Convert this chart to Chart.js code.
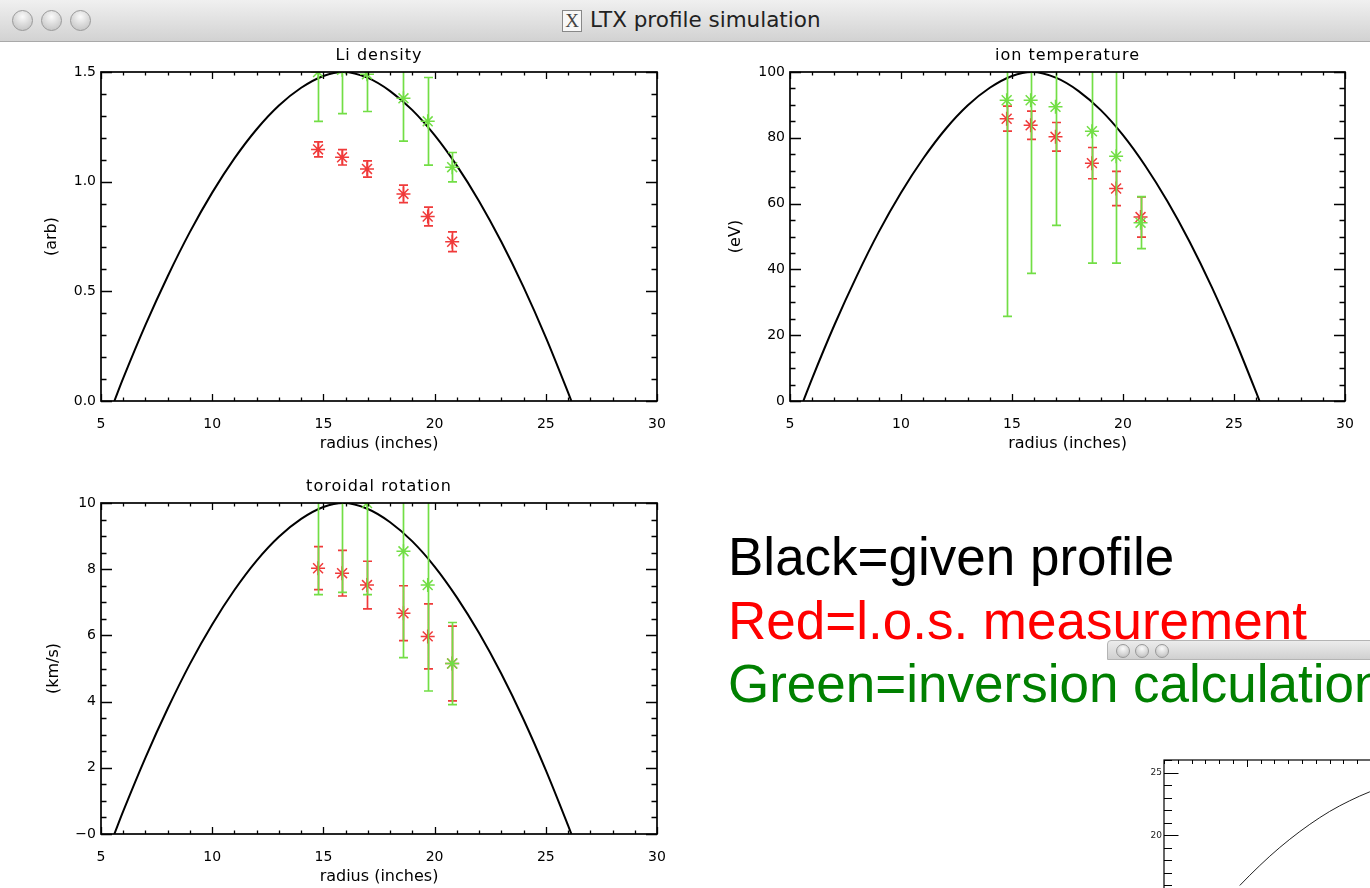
<!DOCTYPE html>
<html>
<head>
<meta charset="utf-8">
<title>LTX profile simulation</title>
<script src="https://cdn.jsdelivr.net/npm/chart.js@4.4.1/dist/chart.umd.min.js"></script>
<style>
  html, body { margin:0; padding:0; background:#fff; width:1370px; height:888px; overflow:hidden; }
  #page { position:relative; width:1370px; height:888px; overflow:hidden; background:#fff; }
  #titlebar { position:absolute; left:0; top:0; width:1370px; height:41px;
     background:linear-gradient(to bottom,#f0f0f0 0%,#dedede 60%,#d2d2d2 100%); border-bottom:1px solid #a9a9a9; }
  .light { position:absolute; width:21px; height:21px; border-radius:50%; box-sizing:border-box;
     background:radial-gradient(circle at 50% 30%, #fafafa 0%, #dadada 50%, #bcbcbc 100%);
     border:1px solid #999; }
  #xicon { position:absolute; left:562px; top:10px; width:20px; height:22px; border:1px solid #888;
     background:#f7f7f7; box-sizing:border-box; font:19px 'Liberation Serif', serif; line-height:20px;
     text-align:center; color:#444; }
  #wintitle { position:absolute; left:590px; top:7px; font:21.5px 'DejaVu Sans', sans-serif; color:#222; white-space:nowrap; }
  canvas { position:absolute; }
  #legend { position:absolute; left:728px; top:525px; font:53px 'Liberation Sans', Arial, sans-serif;
     line-height:63.5px; white-space:nowrap; z-index:5; }
  #win2 { position:absolute; left:1107px; top:640px; width:400px; height:400px; background:#fff; z-index:2; }
  #win2bar { position:absolute; left:0; top:0; width:400px; height:20px; border:1px solid #b4b4b4; border-radius:4px 0 0 0;
     background:linear-gradient(to bottom,#ececec 0%,#d0d0d0 100%); box-sizing:border-box; }
  .light2 { position:absolute; top:3px; width:14px; height:14px; border-radius:50%; box-sizing:border-box;
     background:radial-gradient(circle at 50% 30%, #fafafa 0%, #d6d6d6 55%, #b6b6b6 100%); border:1px solid #999; }
</style>
</head>
<body>
<div id="page">
  <div id="titlebar">
    <div class="light" style="left:12px;top:10px"></div>
    <div class="light" style="left:41px;top:10px"></div>
    <div class="light" style="left:70px;top:10px"></div>
    <div id="xicon">X</div>
    <div id="wintitle">LTX profile simulation</div>
  </div>

  <canvas id="cLi" width="685" height="420" style="left:0;top:42px"></canvas>
  <canvas id="cTi" width="685" height="420" style="left:685px;top:42px"></canvas>
  <canvas id="cVt" width="685" height="420" style="left:0;top:473px"></canvas>

  <div id="win2">
    <div id="win2bar">
      <div class="light2" style="left:8px"></div>
      <div class="light2" style="left:27px"></div>
      <div class="light2" style="left:47px"></div>
    </div>
    <canvas id="cMini" width="400" height="380" style="left:0;top:21px"></canvas>
  </div>

  <div id="legend">
    <div style="color:#000">Black=given profile</div>
    <div style="color:#ff0000">Red=l.o.s. measurement</div>
    <div style="color:#008000">Green=inversion calculation</div>
  </div>
</div>

<script>
// ---------------- data ----------------
const xTickValues = [5, 10, 15, 20, 25, 30];
const xTickLabels = ['5', '10', '15', '20', '25', '30'];

const liTickValues = [0, 0.5, 1.0, 1.5];
const liTickLabels = ['0.0', '0.5', '1.0', '1.5'];
const tiTickValues = [0, 20, 40, 60, 80, 100];
const tiTickLabels = ['0', '20', '40', '60', '80', '100'];
const vtTickValues = [0, 2, 4, 6, 8, 10];
const vtTickLabels = ['\u22120', '2', '4', '6', '8', '10'];

// given profile (black curve)
const profileRadius = [5.6, 6, 7, 8, 9, 10, 11, 12, 13, 14, 15, 15.9, 17, 18, 19, 20, 21, 22, 23, 24, 25, 26, 26.15];
const liProfile = [0, 0.104, 0.347, 0.569, 0.771, 0.950, 1.106, 1.239, 1.347, 1.428, 1.482, 1.5, 1.473, 1.413, 1.326, 1.212, 1.073, 0.911, 0.726, 0.519, 0.290, 0.039, 0];
const tiProfile = [0, 6.9, 23.1, 37.9, 51.4, 63.3, 73.7, 82.6, 89.8, 95.2, 98.8, 100, 98.2, 94.2, 88.4, 80.8, 71.5, 60.7, 48.4, 34.6, 19.3, 2.6, 0];
const vtProfile = [0, 0.69, 2.31, 3.79, 5.14, 6.33, 7.37, 8.26, 8.98, 9.52, 9.88, 10, 9.82, 9.42, 8.84, 8.08, 7.15, 6.07, 4.84, 3.46, 1.93, 0.26, 0];

// chord radii of the sight lines
const chordRadius = [14.76, 15.84, 16.96, 18.6, 19.69, 20.79];

// Li density
const liMeasured    = [1.147, 1.111, 1.058, 0.944, 0.841, 0.726];
const liMeasuredErr = [0.034, 0.035, 0.037, 0.040, 0.043, 0.045];
const liInverted    = [1.50, 1.51, 1.49, 1.38, 1.275, 1.066];
const liInvertedErr = [0.225, 0.20, 0.17, 0.195, 0.20, 0.067];

// ion temperature
const tiMeasured    = [85.8, 83.8, 80.3, 72.3, 64.6, 55.9];
const tiMeasuredErr = [3.8, 4.3, 4.35, 4.75, 5.2, 6.1];
const tiInverted    = [91.4, 91.4, 89.4, 82.0, 74.4, 54.2];
const tiInvertedErr = [65.7, 52.6, 36.0, 40.1, 32.5, 7.9];

// toroidal rotation
const vtMeasured    = [8.03, 7.88, 7.52, 6.67, 5.97, 5.15];
const vtMeasuredErr = [0.65, 0.69, 0.72, 0.83, 0.98, 1.13];
const vtInverted    = [10.3, 10.5, 10.0, 8.54, 7.52, 5.15];
const vtInvertedErr = [3.07, 3.2, 2.77, 3.21, 3.2, 1.24];

// partly hidden second window
const miniTickValues = [5, 10, 15, 20, 25];
const miniTickLabels = ['5', '10', '15', '20', '25'];
const miniR = [9.49, 10.22, 11.67, 13.12, 14.57, 16.01, 17.46, 18.91, 20.36];
const miniZ = [15.99, 16.81, 18.33, 19.68, 20.87, 21.90, 22.75, 23.46, 24.00];

// ---------------- styling ----------------
const TICK_FONT = { family: 'DejaVu Sans', size: 14 };
const TITLE_FONT = { family: 'DejaVu Sans', size: 16 };
const RED = '#f03a3a';
const GREEN = '#72de45';

const pts = (xs, ys) => xs.map((x, i) => ({ x: x, y: ys[i] }));

// error bars, drawn just before each dataset's own markers
const errorBars = {
  id: 'errorBars',
  beforeDatasetDraw(chart, args) {
    const ds = chart.data.datasets[args.index];
    if (!ds.errors) return;
    const { ctx, chartArea: a, scales: { x, y } } = chart;
    const cap = 4.5;
    ctx.save();
    ctx.beginPath();
    ctx.rect(a.left, a.top, a.right - a.left, a.bottom - a.top);
    ctx.clip();
    ctx.strokeStyle = ds.borderColor;
    ctx.lineWidth = 1.7;
    ctx.beginPath();
    ds.data.forEach((p, i) => {
      const e = ds.errors[i];
      const px = Math.round(x.getPixelForValue(p.x)) + 0.5;
      const y1 = y.getPixelForValue(p.y - e);
      const y2 = y.getPixelForValue(p.y + e);
      ctx.moveTo(px, y1); ctx.lineTo(px, y2);
      ctx.moveTo(px - cap, y1); ctx.lineTo(px + cap, y1);
      ctx.moveTo(px - cap, y2); ctx.lineTo(px + cap, y2);
    });
    ctx.stroke();
    ctx.restore();
  }
};

// IDL-style box with inward ticks on all sides
const idlFrame = {
  id: 'idlFrame',
  afterDatasetsDraw(chart, args, o) {
    const { ctx, chartArea: a, scales: { x, y } } = chart;
    ctx.save();
    ctx.strokeStyle = o.color || '#000';
    ctx.lineWidth = o.boxWidth || 1.7;
    ctx.strokeRect(a.left, a.top, a.right - a.left, a.bottom - a.top);
    ctx.lineWidth = o.tickWidth || 1.3;
    ctx.beginPath();
    const isMajor = (v, m) => Math.abs(v / m - Math.round(v / m)) < 1e-6;
    for (let k = Math.ceil(x.min / o.xMinor - 1e-6); k * o.xMinor <= x.max + 1e-6; k++) {
      const v = k * o.xMinor;
      const px = Math.round(x.getPixelForValue(v)) + 0.5;
      const L = isMajor(v, o.xMajor) ? o.xMajorLen : o.xMinorLen;
      ctx.moveTo(px, a.bottom); ctx.lineTo(px, a.bottom - L);
      ctx.moveTo(px, a.top); ctx.lineTo(px, a.top + L);
    }
    for (let k = Math.ceil(y.min / o.yMinor - 1e-6); k * o.yMinor <= y.max + 1e-6; k++) {
      const v = k * o.yMinor;
      const py = Math.round(y.getPixelForValue(v)) + 0.5;
      const L = isMajor(v, o.yMajor) ? o.yMajorLen : o.yMinorLen;
      ctx.moveTo(a.left, py); ctx.lineTo(a.left + L, py);
      ctx.moveTo(a.right, py); ctx.lineTo(a.right - L, py);
    }
    ctx.stroke();
    ctx.restore();
  }
};

const plotTitle = {
  id: 'plotTitle',
  afterDraw(chart, args, o) {
    if (!o || !o.text) return;
    const { ctx, chartArea: a } = chart;
    ctx.save();
    ctx.font = o.font;
    ctx.fillStyle = o.color;
    ctx.textAlign = 'center';
    ctx.textBaseline = 'middle';
    if ('letterSpacing' in ctx) ctx.letterSpacing = o.spacing;
    ctx.fillText(o.text, (a.left + a.right) / 2, a.top - o.offset);
    ctx.restore();
  }
};

function makePlot(id, cfg) {
  return new Chart(document.getElementById(id), {
    type: 'scatter',
    data: {
      datasets: [
        { label: 'inversion', data: pts(chordRadius, cfg.inv), errors: cfg.invErr, order: 1,
          pointStyle: 'star', pointRadius: 7, borderColor: GREEN, backgroundColor: GREEN, borderWidth: 1.5, clip: 0 },
        { label: 'measurement', data: pts(chordRadius, cfg.meas), errors: cfg.measErr, order: 2,
          pointStyle: 'star', pointRadius: 7, borderColor: RED, backgroundColor: RED, borderWidth: 1.5, clip: 0 },
        { label: 'given', data: pts(profileRadius, cfg.profile), order: 3, showLine: true,
          cubicInterpolationMode: 'monotone',
          borderColor: '#000', borderWidth: 2, pointRadius: 0, clip: 0 }
      ]
    },
    options: {
      responsive: false, animation: false, devicePixelRatio: 1,
      layout: { padding: { left: 0, right: cfg.padRight, top: 30, bottom: 0 } },
      plugins: {
        legend: { display: false }, tooltip: { enabled: false },
        plotTitle: { text: cfg.title, font: '16px "DejaVu Sans"', color: '#000', offset: 16, spacing: '1px' },
        idlFrame: { xMinor: 1, xMajor: 5, xMajorLen: 7, xMinorLen: 3.5,
                    yMinor: cfg.yMinor, yMajor: cfg.yMajor, yMajorLen: 11, yMinorLen: 5.5 }
      },
      scales: {
        x: {
          type: 'linear', min: 5, max: 30,
          grid: { display: false, drawTicks: false }, border: { display: false },
          afterFit: s => { s.height = cfg.xHeight; },
          afterBuildTicks: s => { s.ticks = xTickValues.map(v => ({ value: v })); },
          ticks: { callback: (v, i) => xTickLabels[i], padding: 15, font: TICK_FONT, color: '#000',
                   maxRotation: 0, autoSkip: false },
          title: { display: true, text: 'radius (inches)', font: TITLE_FONT, color: '#000',
                   padding: { top: 0, bottom: cfg.xTitlePad } }
        },
        y: {
          type: 'linear', min: cfg.yMin, max: cfg.yMax,
          grid: { display: false, drawTicks: false }, border: { display: false },
          afterFit: s => { s.width = cfg.yWidth; },
          afterBuildTicks: s => { s.ticks = cfg.yTicks.map(v => ({ value: v })); },
          ticks: { callback: (v, i) => cfg.yLabels[i], padding: 5, font: TICK_FONT, color: '#000', autoSkip: false },
          title: { display: true, text: cfg.yTitle, font: TITLE_FONT, color: '#000',
                   padding: { top: cfg.yTitlePad, bottom: 0 } }
        }
      }
    },
    plugins: [errorBars, idlFrame, plotTitle]
  });
}

makePlot('cLi', { title: 'Li density', yTitle: '(arb)', yMin: 0, yMax: 1.5, yMinor: 0.1, yMajor: 0.5,
  yTicks: liTickValues, yLabels: liTickLabels, profile: liProfile,
  meas: liMeasured, measErr: liMeasuredErr, inv: liInverted, invErr: liInvertedErr,
  padRight: 28, yWidth: 101, xHeight: 61, xTitlePad: 9, yTitlePad: 42 });

makePlot('cTi', { title: 'ion temperature', yTitle: '(eV)', yMin: 0, yMax: 100, yMinor: 5, yMajor: 20,
  yTicks: tiTickValues, yLabels: tiTickLabels, profile: tiProfile,
  meas: tiMeasured, measErr: tiMeasuredErr, inv: tiInverted, invErr: tiInvertedErr,
  padRight: 25, yWidth: 105, xHeight: 61, xTitlePad: 9, yTitlePad: 41 });

makePlot('cVt', { title: 'toroidal rotation', yTitle: '(km/s)', yMin: 0, yMax: 10, yMinor: 0.5, yMajor: 2,
  yTicks: vtTickValues, yLabels: vtTickLabels, profile: vtProfile,
  meas: vtMeasured, measErr: vtMeasuredErr, inv: vtInverted, invErr: vtInvertedErr,
  padRight: 28, yWidth: 101, xHeight: 59, xTitlePad: 7, yTitlePad: 44 });

// second (mostly hidden) window
new Chart(document.getElementById('cMini'), {
  type: 'scatter',
  data: { datasets: [{ data: pts(miniR, miniZ), showLine: true, cubicInterpolationMode: 'monotone', borderColor: '#222',
                       borderWidth: 1, pointRadius: 0, clip: 0 }] },
  options: {
    responsive: false, animation: false, devicePixelRatio: 1,
    layout: { padding: { left: 0, right: 0, top: 99, bottom: 0 } },
    plugins: { legend: { display: false }, tooltip: { enabled: false },
      idlFrame: { xMinor: 1, xMajor: 10, xMajorLen: 7, xMinorLen: 4,
                  yMinor: 1, yMajor: 5, yMajorLen: 14.5, yMinorLen: 8, boxWidth: 1.2, tickWidth: 1 } },
    scales: {
      x: { type: 'linear', min: 4, max: 28.86, display: false },
      y: { type: 'linear', min: 4.18, max: 26,
           grid: { display: false, drawTicks: false }, border: { display: false },
           afterFit: s => { s.width = 57; },
           afterBuildTicks: s => { s.ticks = miniTickValues.map(v => ({ value: v })); },
           ticks: { callback: (v, i) => miniTickLabels[i], padding: 2, font: { family: 'DejaVu Sans', size: 9 },
                    color: '#222', autoSkip: false } }
    }
  },
  plugins: [idlFrame]
});
</script>
</body>
</html>
